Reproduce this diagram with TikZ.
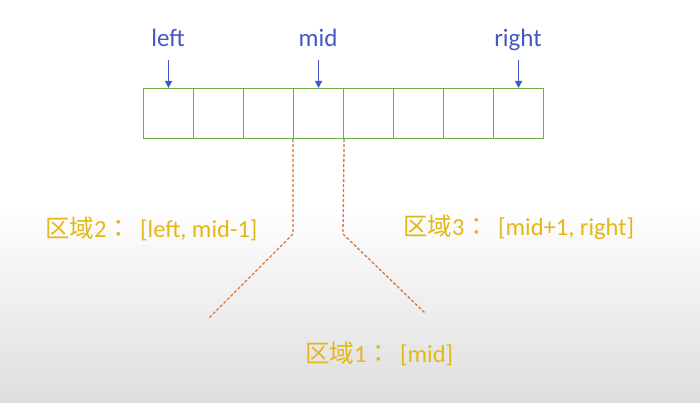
\documentclass[tikz,border=0pt]{standalone}
\usepackage{fontspec}
\setmainfont{Carlito}
\newfontfamily\cjk{Noto Sans CJK SC}
\newfontfamily\cjkc{Noto Sans CJK TC}
\usetikzlibrary{arrows.meta}
\definecolor{ptrblue}{RGB}{68,88,196}
\definecolor{cellgreen}{RGB}{112,173,71}
\definecolor{dashorange}{RGB}{218,118,58}
\definecolor{zonegold}{RGB}{226,184,24}
\definecolor{bggray}{RGB}{222,222,222}
\newcommand{\fwcolon}{{\cjkc ：}}
\tikzset{
  cell/.style={draw=cellgreen, line width=1.1pt, minimum width=50pt, minimum height=50pt, inner sep=0pt, anchor=north west},
  ptrlabel/.style={text=ptrblue, font=\fontsize{25}{28}\selectfont, anchor=base, inner sep=0pt},
  ptrarrow/.style={draw=ptrblue, line width=0.8pt, -{Triangle[length=7pt,width=7pt]}},
  splitline/.style={draw=dashorange, line width=1.3pt, dash pattern=on 3pt off 2pt},
  zonelabel/.style={text=zonegold, font=\fontsize{24.5}{28}\selectfont, anchor=base west, inner sep=0pt}
}
\begin{document}
\begin{tikzpicture}[x=1pt,y=-1pt]
\useasboundingbox (0,0) rectangle (700,403);
\fill[white] (0,0) rectangle (700,403);
\shade[top color=white, bottom color=bggray] (0,205) rectangle (700,403);
% cells
\foreach \i in {1,...,8} {
  \node[cell] (c\i) at ({143+50*(\i-1)},88) {};
}
% pointer labels
\node[ptrlabel] (lleft) at (168,47) {left};
\node[ptrlabel] (lmid) at (318,47) {mid};
\node[ptrlabel] (lright) at (518,47) {right};
\draw[ptrarrow] (c1.north |- 0,60) -- (c1.north);
\draw[ptrarrow] (c4.north |- 0,60) -- (c4.north);
\draw[ptrarrow] (c8.north |- 0,60) -- (c8.north);
% dashed split lines
\coordinate (lbend) at (293,234);
\coordinate (lend) at (208,319);
\coordinate (rbend) at (343,234);
\coordinate (rend) at (426,314);
\draw[splitline] (c4.south west) -- (lbend) -- (lend);
\draw[splitline] (c4.south east) -- (rbend) -- (rend);
% zone labels
\node[zonelabel] (z2) at (45,237) {{\cjk 区域}2\fwcolon\hspace{9pt}[left, mid-1]};
\node[zonelabel] (z3) at (403,235) {{\cjk 区域}3\fwcolon\hspace{9pt}[mid+1, right]};
\node[zonelabel] (z1) at (305,362) {{\cjk 区域}1\fwcolon\hspace{9pt}[mid]};
\end{tikzpicture}
\end{document}
